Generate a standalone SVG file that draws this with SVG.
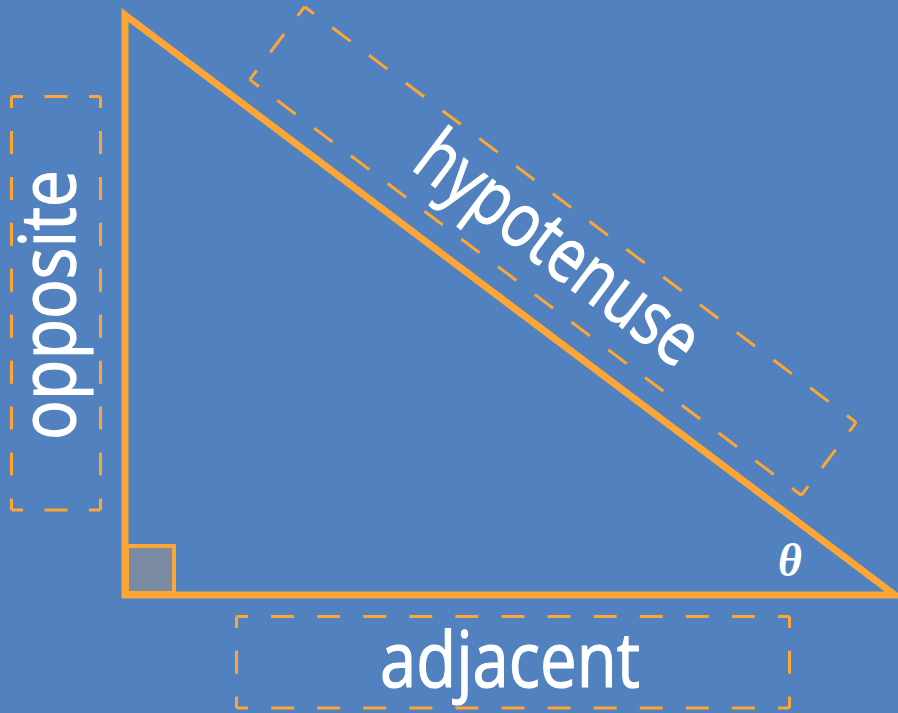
<svg xmlns="http://www.w3.org/2000/svg" width="898" height="713" viewBox="0 0 898 713">
<style>
.bg{fill:#5181BE}
.tri{fill:none;stroke:#FBA636;stroke-width:7;stroke-linejoin:miter}
.sq{fill:#7A8BA3;stroke:#FBA636;stroke-width:4}
.dash{fill:none;stroke:#FBA636;stroke-width:3}
.lbl{font-family:"Open Sans","Noto Sans",sans-serif;font-size:76px;fill:#FFFFFF;stroke:#FFFFFF;stroke-width:1.2px;text-anchor:middle}
.theta{font-family:"Liberation Serif",serif;font-size:46px;font-weight:bold;font-style:italic;fill:#FFFFFF;text-anchor:middle}
</style>
<rect class="bg" x="0" y="0" width="898" height="713"/>
<g id="triangle">
<polygon class="tri" points="125,15 125,595 895,595"/>
<rect class="sq" x="127" y="546" width="47" height="47"/>
<text class="theta" x="790" y="576">θ</text>
</g>
<g id="opposite">
<line class="dash" x1="11.5" y1="96.5" x2="100.5" y2="96.5" stroke-dasharray="23 21.5" stroke-dashoffset="11.5"/>
<line class="dash" x1="100.5" y1="96.5" x2="100.5" y2="510" stroke-dasharray="23 22.94" stroke-dashoffset="11.5"/>
<line class="dash" x1="100.5" y1="510" x2="11.5" y2="510" stroke-dasharray="23 21.5" stroke-dashoffset="11.5"/>
<line class="dash" x1="11.5" y1="510" x2="11.5" y2="96.5" stroke-dasharray="23 22.94" stroke-dashoffset="11.5"/>
<text class="lbl" transform="translate(75,305) rotate(-90)" x="0" y="0" textLength="270" lengthAdjust="spacingAndGlyphs">opposite</text>
</g>
<g id="adjacent">
<line class="dash" x1="236.5" y1="616.5" x2="789.5" y2="616.5" stroke-dasharray="23 23.08" stroke-dashoffset="11.5"/>
<line class="dash" x1="789.5" y1="616.5" x2="789.5" y2="708" stroke-dasharray="23 22.75" stroke-dashoffset="11.5"/>
<line class="dash" x1="789.5" y1="708" x2="236.5" y2="708" stroke-dasharray="23 23.08" stroke-dashoffset="11.5"/>
<line class="dash" x1="236.5" y1="708" x2="236.5" y2="616.5" stroke-dasharray="23 22.75" stroke-dashoffset="11.5"/>
<text class="lbl" x="510" y="687" textLength="260" lengthAdjust="spacingAndGlyphs">adjacent</text>
</g>
<g id="hypotenuse" transform="translate(553,251) rotate(37)">
<line class="dash" x1="-345.3" y1="-45.6" x2="345.3" y2="-45.6" stroke-dasharray="23 23.04" stroke-dashoffset="11.5"/>
<line class="dash" x1="345.3" y1="-45.6" x2="345.3" y2="45.6" stroke-dasharray="23 22.6" stroke-dashoffset="11.5"/>
<line class="dash" x1="345.3" y1="45.6" x2="-345.3" y2="45.6" stroke-dasharray="23 23.04" stroke-dashoffset="11.5"/>
<line class="dash" x1="-345.3" y1="45.6" x2="-345.3" y2="-45.6" stroke-dasharray="23 22.6" stroke-dashoffset="11.5"/>
<text class="lbl" x="3" y="20" textLength="335" lengthAdjust="spacingAndGlyphs">hypotenuse</text>
</g>
</svg>
